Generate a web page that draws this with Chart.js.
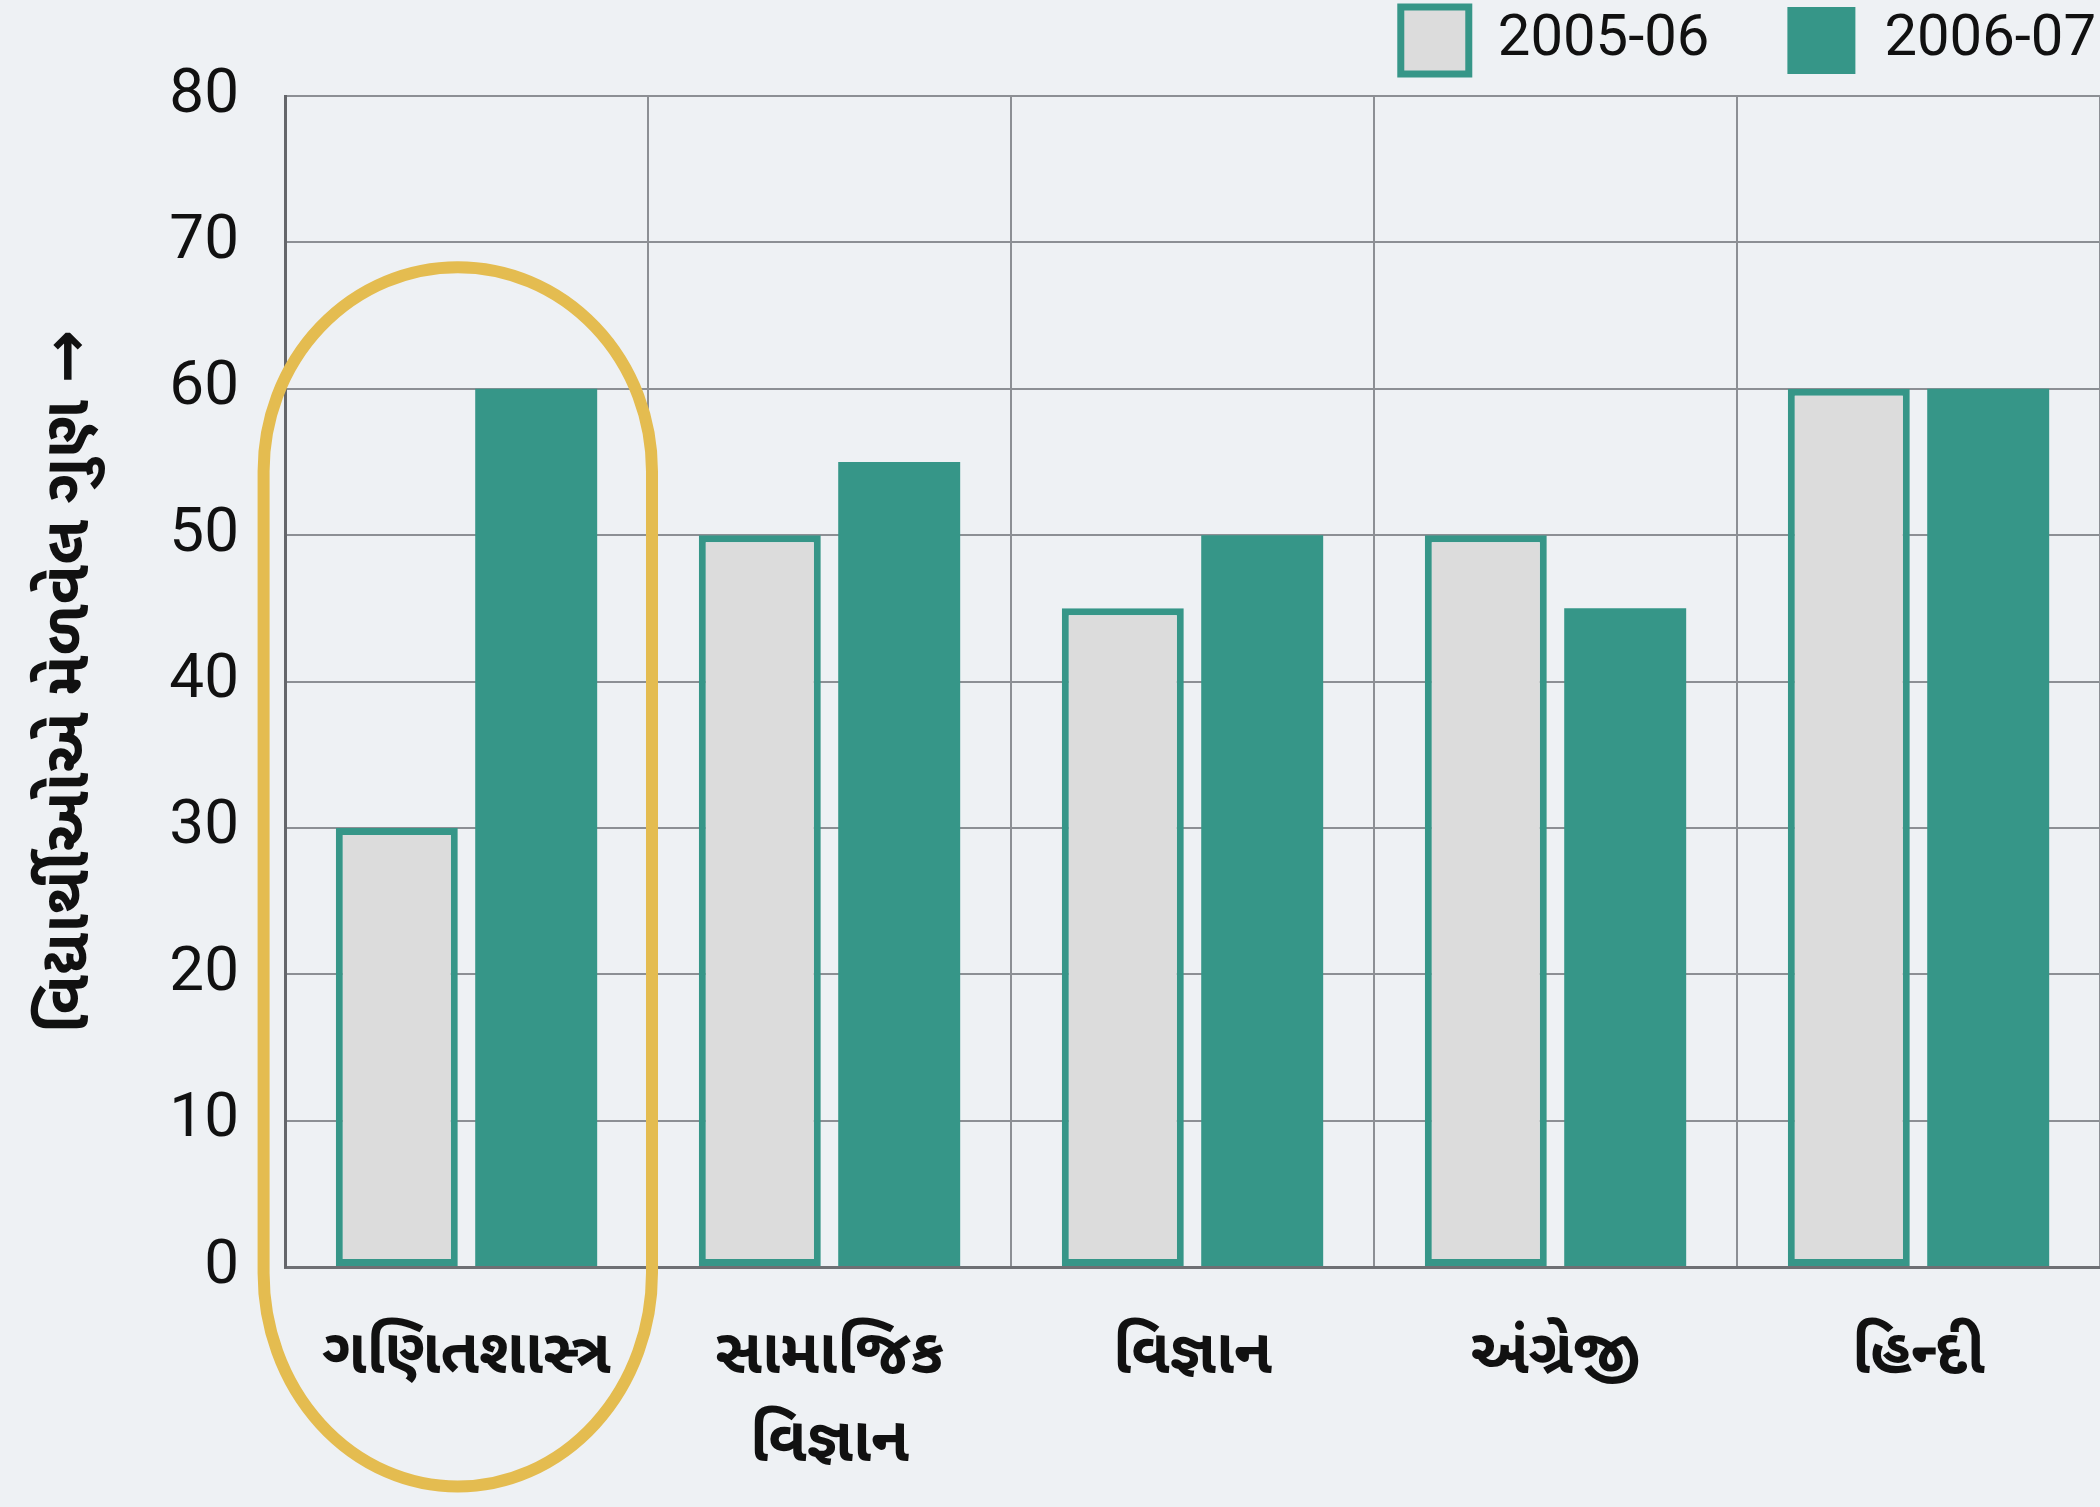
<!DOCTYPE html>
<html>
<head>
<meta charset="utf-8">
<script src="https://cdn.jsdelivr.net/npm/chart.js@4.4.0/dist/chart.umd.min.js"></script>
<style>
  html, body { margin: 0; padding: 0; background: #eef1f4; }
  canvas { display: block; }
</style>
</head>
<body>
<canvas id="marks" width="2100" height="1507"></canvas>
<script>
// subjects and marks
const subjects = ['ગણિતશાસ્ત્ર', ['સામાજિક', 'વિજ્ઞાન'], 'વિજ્ઞાન', 'અંગ્રેજી', 'હિન્દી'];
const marks2005 = [30, 50, 45, 50, 60];
const marks2006 = [60, 55, 50, 45, 60];
const yTitle = 'વિદ્યાર્થીઓએ મેળવેલ ગુણ →';

const teal = 'rgb(54, 150, 136)';
const lightGrey = 'rgb(220, 220, 220)';
const gridColor = 'rgb(140, 143, 148)';
const gujFont = "'Noto Sans Gujarati', 'Noto Sans', 'DejaVu Sans', sans-serif";

// paint the page colour under everything
const background = {
    id: 'background',
    beforeDraw(chart) {
        const ctx = chart.ctx;
        ctx.save();
        ctx.fillStyle = '#eef1f4';
        ctx.fillRect(0, 0, chart.width, chart.height);
        ctx.restore();
    }
};

// legend sits high and to the right, with wide gaps between items
const legendPlace = {
    id: 'legendPlace',
    beforeInit(chart) {
        const fit = chart.legend.fit;
        chart.legend.fit = function () {
            fit.bind(chart.legend)();
            this.height = 96;
        };
    },
    afterLayout(chart) {
        chart.legend.top = -71;
        chart.legend.right = chart.width + 74;
    }
};

// gold ring round the first subject
const highlight = {
    id: 'highlight',
    afterDatasetsDraw(chart) {
        const x = chart.scales.x, y = chart.scales.y;
        const w = x.getPixelForValue(1) - x.getPixelForValue(0);
        const cx = x.getPixelForValue(0) - 0.024 * w;
        const r = 0.535 * w;
        const top = y.getPixelForValue(68.3);
        const bottom = y.getPixelForValue(-15);
        const ctx = chart.ctx;
        ctx.save();
        ctx.strokeStyle = 'rgb(228, 188, 80)';
        ctx.lineWidth = 12;
        ctx.beginPath();
        ctx.ellipse(cx, top + r * 1.05, r, r * 1.05, 0, Math.PI, 2 * Math.PI);
        ctx.lineTo(cx + r, bottom - r * 1.1);
        ctx.ellipse(cx, bottom - r * 1.1, r, r * 1.1, 0, 0, Math.PI);
        ctx.closePath();
        ctx.stroke();
        ctx.restore();
    }
};

const data = {
    labels: subjects,
    datasets: [{
        label: '2005-06',
        data: marks2005,
        backgroundColor: lightGrey,
        borderColor: teal,
        borderWidth: 7,
        borderSkipped: false,
        categoryPercentage: 0.768,
        barPercentage: 0.875,
    }, {
        label: '2006-07',
        data: marks2006,
        backgroundColor: teal,
        borderColor: teal,
        borderWidth: 0,
        categoryPercentage: 0.768,
        barPercentage: 0.875,
    }],
};

const config = {
    type: 'bar',
    data: data,
    options: {
        responsive: false,
        animation: false,
        devicePixelRatio: 1,
        layout: { padding: { top: 0, right: 0, bottom: 0, left: 0 } },
        plugins: {
            tooltip: { enabled: false },
            legend: {
                position: 'top',
                align: 'end',
                labels: {
                    boxWidth: 68,
                    boxHeight: 67,
                    padding: 78,
                    color: '#111',
                    font: { family: 'Roboto', size: 58 },
                },
            },
        },
        scales: {
            x: {
                grid: { color: gridColor, lineWidth: 2, drawTicks: false, offset: true },
                border: { color: 'rgb(110, 112, 116)', width: 3 },
                ticks: {
                    color: '#111',
                    padding: 50,
                    maxRotation: 0,
                    autoSkip: false,
                    font: { family: gujFont, size: 62, weight: 'bold', lineHeight: 1.42 },
                },
                afterFit(scale) { scale.height = 240; },
            },
            y: {
                min: 0,
                max: 80,
                grid: { color: gridColor, lineWidth: 2, drawTicks: false },
                border: { color: 'rgb(100, 102, 106)', width: 3 },
                ticks: {
                    stepSize: 10,
                    color: '#111',
                    padding: 46,
                    font: { family: 'Roboto', size: 62 },
                },
                title: {
                    display: true,
                    text: yTitle,
                    color: '#111',
                    padding: { top: 38, bottom: 0 },
                    font: { family: gujFont, size: 64, weight: 'bold', lineHeight: 1.2 },
                },
                afterFit(scale) { scale.width = 285; },
            },
        },
    },
    plugins: [background, legendPlace, highlight],
};

var ctx = document.getElementById('marks').getContext('2d');
new Chart(ctx, config);
</script>
</body>
</html>
